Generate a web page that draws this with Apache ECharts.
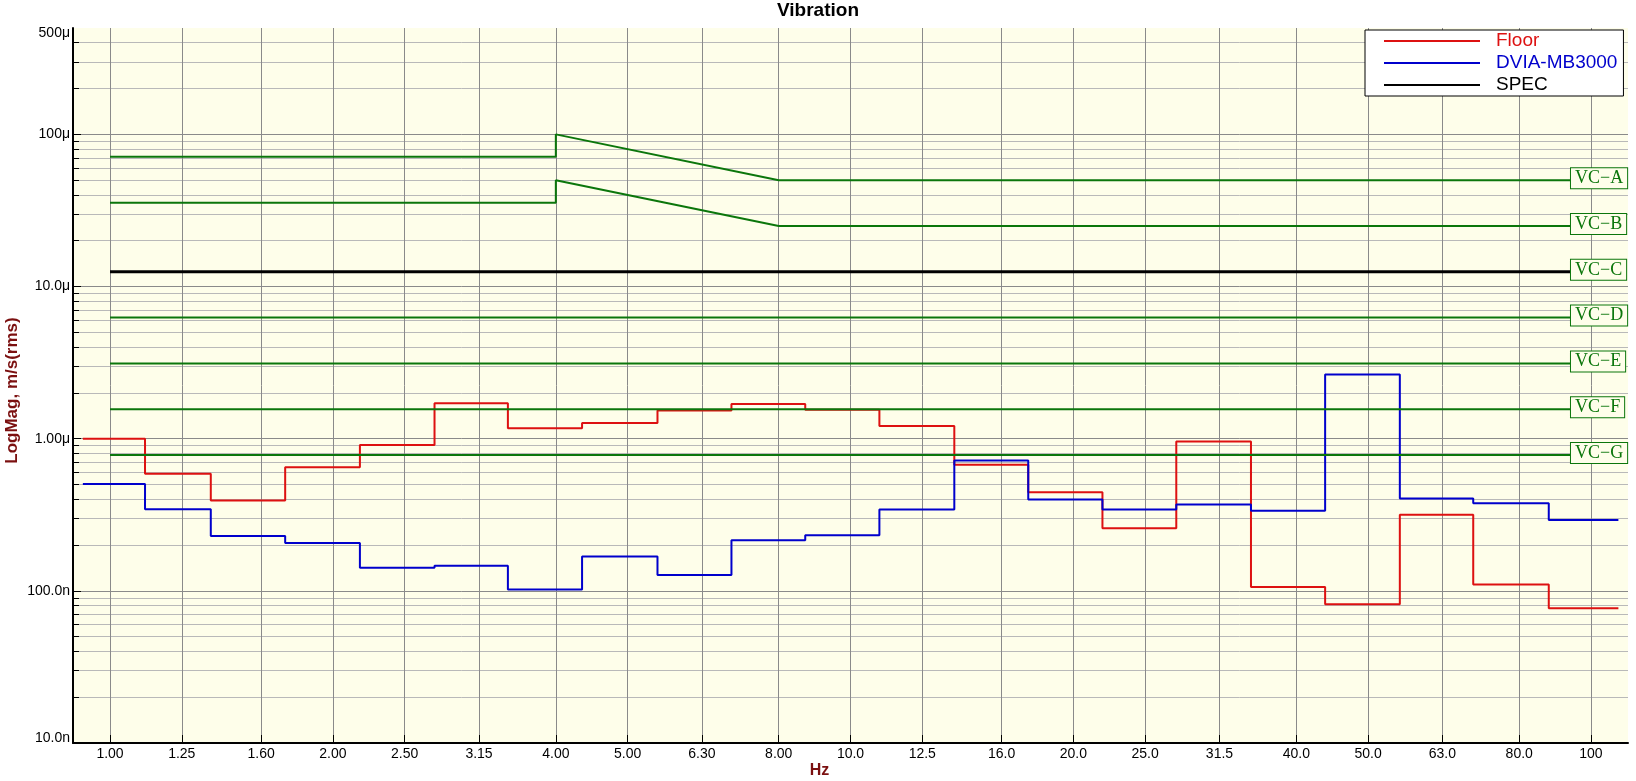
<!DOCTYPE html>
<html><head><meta charset="utf-8">
<script src="https://cdn.jsdelivr.net/npm/echarts@6/dist/echarts.min.js"></script>
<style>html,body{margin:0;padding:0;background:#fff}#c{width:1636px;height:781px}</style>
</head><body><div id="c"></div>
<script>
// ---- data ----
const bandLabels = ['1.00','1.25','1.60','2.00','2.50','3.15','4.00','5.00','6.30','8.00','10.0','12.5','16.0','20.0','25.0','31.5','40.0','50.0','63.0','80.0','100'];
const bandCenters = [1,1.25,1.6,2,2.5,3.15,4,5,6.3,8,10,12.5,16,20,25,31.5,40,50,63,80,100];
// band edge frequencies (Hz) where the stepped traces change level
const bandEdges = [0.919,1.115,1.368,1.724,2.175,2.743,3.446,4.340,5.487,6.906,8.687,10.94,13.81,17.38,21.89,27.54,34.74,43.75,55.19,69.34,87.70,108.9];
const floorValues = [1.0e-6,0.589e-6,0.392e-6,0.648e-6,0.908e-6,1.71e-6,1.17e-6,1.27e-6,1.53e-6,1.69e-6,1.55e-6,1.21e-6,0.675e-6,0.444e-6,0.258e-6,0.96e-6,0.106e-6,0.0817e-6,0.316e-6,0.110e-6,0.0769e-6];
const dviaValues = [0.503e-6,0.344e-6,0.229e-6,0.206e-6,0.1416e-6,0.146e-6,0.102e-6,0.168e-6,0.127e-6,0.215e-6,0.232e-6,0.343e-6,0.72e-6,0.399e-6,0.343e-6,0.370e-6,0.336e-6,2.64e-6,0.405e-6,0.377e-6,0.292e-6];
// VC criterion curves
const vcSlopeFreq = [1,4,4,8,100];
const vcAValues = [71.3e-6,71.3e-6,100e-6,50e-6,50e-6];
const vcBValues = [35.5e-6,35.5e-6,50e-6,25e-6,25e-6];
const vcFlatFreq = [1,100];
const vcCValue = 12.5e-6;   // SPEC
const vcDValue = 6.25e-6;
const vcEValue = 3.12e-6;
const vcFValue = 1.56e-6;
const vcGValue = 0.78e-6;
// y ticks
const yMajorTicks = [1e-8,1e-7,1e-6,1e-5,1e-4];
const yLabelValues = [1e-8,1e-7,1e-6,1e-5,1e-4,5e-4];
const yLabelTexts = ['10.0n','100.0n','1.00μ','10.0μ','100μ','500μ'];
const yMinorMultipliers = [2,3,4,5,6,7,8,9];
const yMax = 5e-4, yMin = 1e-8;

// ---- build ----
const L = Math.log10;
const RED = '#dd1111', BLUE = '#0000cc', GREEN = '#0b760b', BLACK = '#000000', NAMEC = '#7b1010';
const FONT = 'Liberation Sans, Arial, sans-serif';

function steps(vals){
  const d = [];
  vals.forEach((v,i)=>{ d.push([L(bandEdges[i]), L(v)]); d.push([L(bandEdges[i+1]), L(v)]); });
  return d;
}
function curve(freqs, vals){ return freqs.map((f,i)=>[L(f), L(vals[i])]); }
function flat(v){ return vcFlatFreq.map(f=>[L(f), L(v)]); }

const xTickVals = bandCenters.map(L);
const yMinorVals = [];
yMajorTicks.forEach(d=>yMinorMultipliers.forEach(m=>{ if (m*d < yMax*0.999) yMinorVals.push(L(m*d)); }));

function vcLabel(text){
  return {
    show: true, formatter: text, color: GREEN,
    fontFamily: 'Liberation Serif, Times New Roman, serif', fontSize: 18, lineHeight: 18,
    backgroundColor: '#FEFEEA', borderColor: GREEN, borderWidth: 1,
    padding: [1,4,1,4], offset: [-25,-2], distance: 5
  };
}
function vcSeries(name, data, color, width, label, z){
  return { name, type:'line', data, symbol:'none', silent:true, z,
    lineStyle:{color, width}, itemStyle:{color}, endLabel: vcLabel(label), animation:false };
}

const option = {
  animation: false,
  backgroundColor: '#ffffff',
  title: { text:'Vibration', left:'center', top:1, padding:0,
    textStyle:{fontSize:19, fontWeight:'bold', fontFamily:FONT, color:'#000'} },
  legend: {
    orient:'vertical', left:1365, top:30, padding:[0,6,0,19], itemGap:0,
    itemWidth:96, itemHeight:2, icon:'rect', selectedMode:false,
    backgroundColor:'#ffffff', borderColor:'#000', borderWidth:1, borderRadius:0,
    textStyle:{fontFamily:FONT, fontSize:19, lineHeight:22, padding:[0,0,0,11]},
    data:[
      {name:'Floor', textStyle:{color:RED}},
      {name:'DVIA-MB3000', textStyle:{color:BLUE}},
      {name:'SPEC', textStyle:{color:BLACK}}
    ]
  },
  grid: { left:73, right:8, top:28, bottom:38, show:true, backgroundColor:'#FEFEEA', borderWidth:0,
    containLabel:false, outerBoundsMode:'none' },
  xAxis: {
    type:'value', min:-0.05, max:2.05,
    name:'Hz', nameLocation:'middle', nameGap:20, nameMoveOverlap:false,
    nameTextStyle:{color:NAMEC, fontWeight:'bold', fontSize:16, fontFamily:FONT, padding:[0,62,0,0]},
    axisLine:{show:true, onZero:false, lineStyle:{color:'#000', width:2}},
    axisTick:{show:true, inside:true, length:8, customValues:xTickVals, lineStyle:{color:'#000', width:1}},
    axisLabel:{customValues:xTickVals, color:'#000', fontSize:14, fontFamily:FONT, margin:4,
      formatter:(v)=>{ const i = xTickVals.findIndex(t=>Math.abs(t-v)<1e-6); return i>=0?bandLabels[i]:''; }},
    splitLine:{show:true, lineStyle:{color:'#8a8a8a', width:1}}
  },
  yAxis: [
    {
      type:'value', min:L(yMin), max:L(yMax), position:'left',
      name:'LogMag, m/s(rms)', nameLocation:'middle', nameGap:52, nameMoveOverlap:false,
      nameTextStyle:{color:NAMEC, fontWeight:'bold', fontSize:17, fontFamily:FONT, padding:[0,10,0,0]},
      axisLine:{show:true, onZero:false, lineStyle:{color:'#000', width:2}},
      axisTick:{show:true, inside:true, length:8, customValues:yMajorTicks.map(L), lineStyle:{color:'#000'}},
      axisLabel:{customValues:yLabelValues.map(L), color:'#000', fontSize:14, fontFamily:FONT, margin:3,
        rich:{lo:{fontSize:14, fontFamily:FONT, color:'#000', padding:[0,0,9,0]},
              hi:{fontSize:14, fontFamily:FONT, color:'#000', padding:[10,0,0,0]}},
        formatter:(v)=>{
          const i = yLabelValues.findIndex(t=>Math.abs(L(t)-v)<1e-6);
          if (i<0) return '';
          if (i===0) return '{lo|'+yLabelTexts[i]+'}';
          if (i===yLabelValues.length-1) return '{hi|'+yLabelTexts[i]+'}';
          return yLabelTexts[i];
        }},
      splitLine:{show:true, lineStyle:{color:'#8a8a8a', width:1}}
    },
    {
      type:'value', min:L(yMin), max:L(yMax), position:'left', offset:0,
      axisLine:{show:false, onZero:false},
      axisTick:{show:true, inside:true, length:6, customValues:yMinorVals, lineStyle:{color:'#000'}},
      axisLabel:{show:false},
      splitLine:{show:true, lineStyle:{color:'#b9b9b9', width:1}}
    }
  ],
  series: [
    { name:'Floor', type:'line', data:steps(floorValues), symbol:'none', z:3,
      lineStyle:{color:RED, width:2}, itemStyle:{color:RED} },
    { name:'DVIA-MB3000', type:'line', data:steps(dviaValues), symbol:'none', z:4,
      lineStyle:{color:BLUE, width:2}, itemStyle:{color:BLUE} },
    vcSeries('VC-A', curve(vcSlopeFreq, vcAValues), GREEN, 2, 'VC−A', 5),
    vcSeries('VC-B', curve(vcSlopeFreq, vcBValues), GREEN, 2, 'VC−B', 5),
    vcSeries('VC-D', flat(vcDValue), GREEN, 2, 'VC−D', 5),
    vcSeries('VC-E', flat(vcEValue), GREEN, 2, 'VC−E', 5),
    vcSeries('VC-F', flat(vcFValue), GREEN, 2, 'VC−F', 5),
    vcSeries('VC-G', flat(vcGValue), GREEN, 2, 'VC−G', 5),
    vcSeries('SPEC', flat(vcCValue), BLACK, 3, 'VC−C', 6)
  ]
};
const chart = echarts.init(document.getElementById('c'), null, {renderer:'canvas'});
chart.setOption(option);
</script>
</body></html>
